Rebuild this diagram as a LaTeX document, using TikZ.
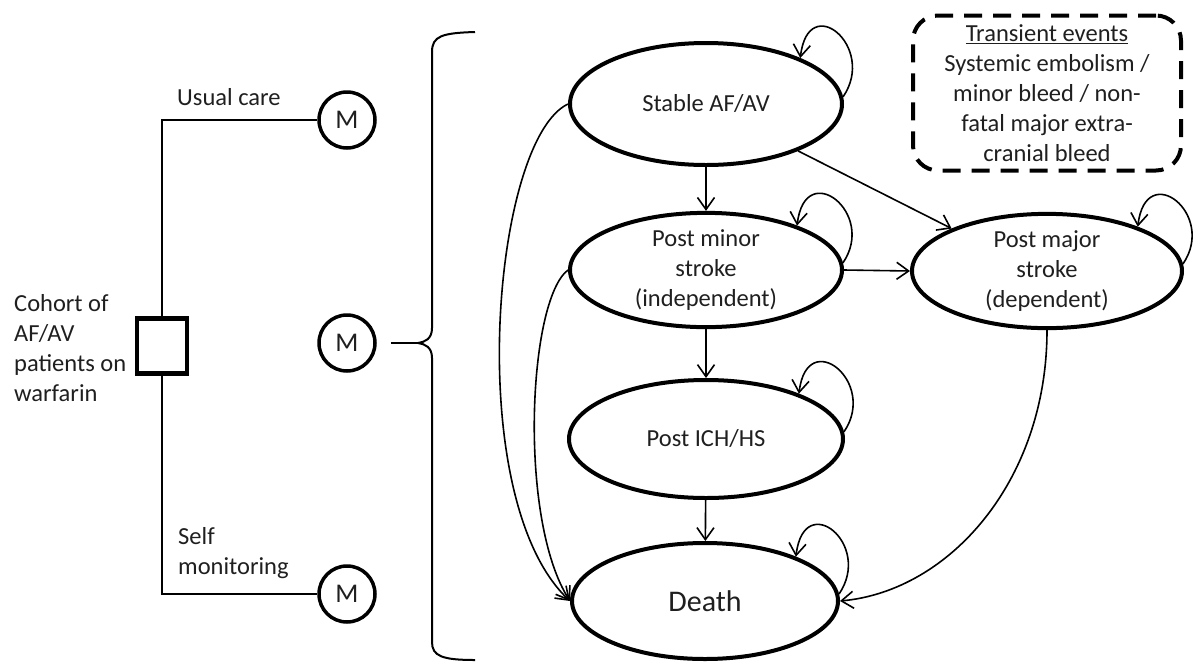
\documentclass[tikz,border=0pt]{standalone}
\usepackage{fontspec}
\setmainfont{Carlito}
\usetikzlibrary{arrows.meta,shapes.geometric,calc}
\begin{document}
\begin{tikzpicture}[x=1pt,y=-1pt,
  txt/.style={font=\fontsize{24.5}{30}\selectfont, text=black!88},
  state/.style={ellipse, draw, line width=4pt, inner sep=0pt, align=center, txt},
  mnode/.style={circle, draw, line width=3.5pt, minimum size=56pt, inner sep=0pt, txt, font=\fontsize{27}{30}\selectfont},
  label/.style={txt, inner sep=0pt, align=left},
  arr/.style={line width=1.6pt, -{Straight Barb[length=12pt,width=17pt]}},
  thinline/.style={line width=1.8pt}]
\useasboundingbox (0,0) rectangle (1203,662);

% states
\node[state, minimum width=272pt, minimum height=122pt] (stable) at (706,104) {Stable AF/AV};
\node[state, minimum width=272pt, minimum height=114pt] (minor) at (706,270) {Post minor\\stroke\\(independent)};
\node[state, minimum width=270pt, minimum height=114pt] (major) at (1047,271) {Post major\\stroke\\(dependent)};
\node[state, minimum width=274pt, minimum height=118pt] (ich) at (706,439) {Post ICH/HS};
\node[state, minimum width=266pt, minimum height=116pt, font=\fontsize{30}{34}\selectfont] (death) at (705,601) {Death};

% transient events box
\node[draw, line width=4pt, dash pattern=on 18pt off 11pt, rounded corners=25pt,
      minimum width=268pt, minimum height=155pt, align=center, txt, inner sep=0pt] (trans) at (1047,93)
  {\underline{Transient events}\\Systemic embolism /\\minor bleed / non-\\fatal major extra-\\cranial bleed};

% decision tree
\node[draw, line width=4.5pt, minimum width=50pt, minimum height=55pt, inner sep=0pt] (sq) at (162,346) {};
\node[mnode] (m1) at (347,120) {M};
\node[mnode] (m2) at (347,343) {M};
\node[mnode] (m3) at (347,594) {M};
\draw[thinline] (sq.north) |- (m1.west);
\draw[thinline] (sq.south) |- (m3.west);

\node[label, anchor=west] (uc) at (177,97) {Usual care};
\node[label, anchor=west] (sm) at (178,553) {Self\\monitoring};
\node[label, anchor=west] (coh) at (14,348) {Cohort of\\AF/AV\\patients on\\warfarin};

% brace
\coordinate (btip) at (418,343);
\draw[line width=2pt] (475,32) .. controls (442,33) and (432,36) .. (432,52) -- (432,328)
  .. controls (432,339) and (425,342) .. (btip)
  .. controls (425,344) and (432,347) .. (432,358) -- (432,642)
  .. controls (432,656) and (442,660) .. (475,660);
\draw[thinline] ($(m2.east)+(14,0)$) -- (btip);

% transitions
\draw[arr] (stable) -- (minor);
\draw[arr] (minor) -- (ich);
\draw[arr] (ich) -- (death);
\draw[arr] (minor.east) -- (major.west);
\draw[arr] (stable.-27) -- (major.156);
\draw[arr] (stable.west) .. controls (492,140) and (462,500) .. (death.west);
\draw[arr] (minor.west) .. controls (528,300) and (518,520) .. (death.west);
\draw[arr] (major.south) .. controls +(0,150) and +(110,-10) .. (death.east);

% self loops
\foreach \n in {stable,minor,major,ich,death}
  \draw[arr] (\n.3) .. controls +(34,-50) and +(8,-68) .. (\n.26);
\end{tikzpicture}
\end{document}
